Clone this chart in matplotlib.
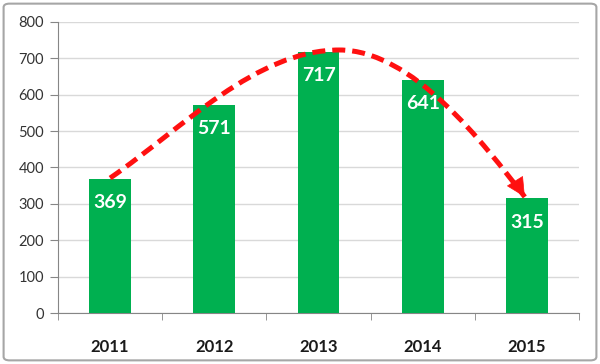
import matplotlib.pyplot as plt
from matplotlib.path import Path
from matplotlib.patches import PathPatch, FancyBboxPatch

years = ['2011', '2012', '2013', '2014', '2015']
values = [369, 571, 717, 641, 315]

# trend arrow (two cubic bezier pieces, data coords)
trend_x = [0.0, 0.7, 1.4, 2.2, 2.9, 3.58, 3.98]
trend_y = [371, 509, 723, 723, 723, 468, 319]

green = '#00b050'
red = '#ff1010'

plt.rcParams['font.family'] = ['Lato', 'DejaVu Sans']

fig = plt.figure(figsize=(6, 3.64), dpi=100)
ax = fig.add_axes([0.0967, 0.1401, 0.8683, 0.7995])

# outer frame
frame = FancyBboxPatch((0.006, 0.01), 0.988, 0.98, boxstyle='round,pad=0,rounding_size=0.01',
                       transform=fig.transFigure, facecolor='white', edgecolor='#a6a6a6',
                       linewidth=1.5, zorder=-10)
fig.patches.append(frame)

x = range(len(years))
ax.bar(x, values, width=0.4, color=green, zorder=3)

for i, v in enumerate(values):
    ax.annotate(str(v), (i, v), xytext=(0, -17), textcoords='offset points',
                ha='center', va='center', color='white', fontsize=14,
                fontweight='bold', zorder=5)

# dashed trend curve
codes = [Path.MOVETO] + [Path.CURVE4] * 6
path = Path(list(zip(trend_x, trend_y)), codes)
ax.add_patch(PathPatch(path, fill=False, edgecolor=red, linewidth=3.6,
                       linestyle=(0, (2.6, 1.4)), zorder=6))
ax.annotate('', xy=(trend_x[-1], trend_y[-1]), xytext=(3.88, 365),
            arrowprops=dict(arrowstyle='-|>', color=red, lw=0.5,
                            mutation_scale=32, shrinkA=0, shrinkB=0),
            zorder=7)

ax.set_xlim(-0.5, 4.5)
ax.set_ylim(0, 800)
ax.set_yticks(range(0, 801, 100))
ax.set_xticks(list(x))
ax.set_xticklabels(years, fontweight='bold', fontsize=12, color='#1a1a1a')
ax.set_xticks([i + 0.5 for i in range(-1, 5)], minor=True)
ax.tick_params(axis='x', which='major', length=0, pad=19)
ax.tick_params(axis='x', which='minor', length=5, color='#868686')
ax.tick_params(axis='y', length=6, color='#868686', labelsize=10.5,
               labelcolor='#333333', pad=4)

ax.grid(axis='y', color='#d9d9d9', linewidth=1, zorder=0)
ax.set_axisbelow(True)
for s in ['top', 'right']:
    ax.spines[s].set_visible(False)
for s in ['left', 'bottom']:
    ax.spines[s].set_color('#868686')

fig.savefig('out.png', dpi=100)
